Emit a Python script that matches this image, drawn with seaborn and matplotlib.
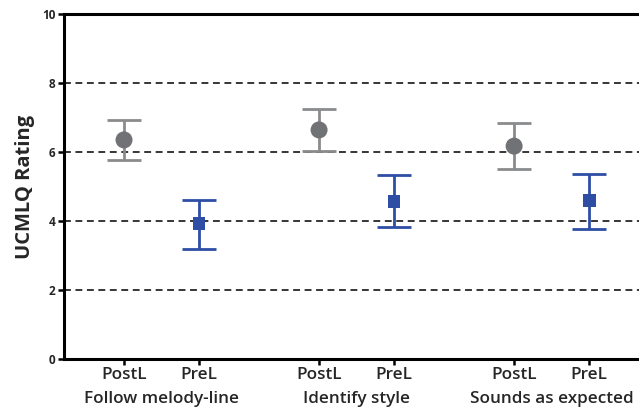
import numpy as np
import pandas as pd
import matplotlib
matplotlib.use("Agg")
import matplotlib.pyplot as plt
import matplotlib.transforms as mtransforms
import seaborn as sns

# Rating summaries per question and listening condition
questions = ["Follow melody-line", "Identify style", "Sounds as expected"]
conditions = ["PostL", "PreL"]
means = [6.35, 3.92, 6.64, 4.57, 6.17, 4.59]
lower = [5.78, 3.19, 6.03, 3.82, 5.51, 3.78]
upper = [6.94, 4.62, 7.26, 5.32, 6.84, 5.35]
yticks = [0, 2, 4, 6, 8, 10]

# x positions: two conditions per question, with a gap between questions
positions = [0.0, 1.0, 2.6, 3.6, 5.2, 6.2]

df = pd.DataFrame({
    "x": positions,
    "mean": means,
    "lo": lower,
    "hi": upper,
    "condition": conditions * len(questions),
    "question": [q for q in questions for _ in conditions],
})

sns.set_theme(style="white")
plt.rcParams["font.family"] = ["Open Sans", "DejaVu Sans"]

line_colors = {"PostL": "#8a8b8d", "PreL": "#2e4ea6"}
marker_colors = {"PostL": "#717275", "PreL": "#2e4ea6"}
markers = {"PostL": "o", "PreL": "s"}
sizes = {"PostL": 150, "PreL": 85}

fig = plt.figure(figsize=(6.39, 4.09), dpi=100)
ax = fig.add_axes([64 / 639, 50 / 409, 1 - 64 / 639 + 0.01, 345 / 409])

for y in [2, 4, 6, 8]:
    ax.axhline(y, color="black", lw=1.1, ls=(0, (4.5, 3)), zorder=1)

for cond in conditions:
    sub = df[df["condition"] == cond]
    ax.errorbar(sub["x"], sub["mean"],
                yerr=[sub["mean"] - sub["lo"], sub["hi"] - sub["mean"]],
                fmt="none", ecolor=line_colors[cond], elinewidth=2.0,
                capsize=12, capthick=2.0, zorder=2)
    sns.scatterplot(data=sub, x="x", y="mean", ax=ax, color=marker_colors[cond],
                    marker=markers[cond], s=sizes[cond], edgecolor="none",
                    zorder=3, legend=False)

ax.set_xlim(-0.8, 6.95)
ax.set_ylim(0, 10)
ax.set_yticks(yticks)
ax.set_yticklabels([str(t) for t in yticks], fontsize=8.5, fontweight="bold")
ax.set_xticks(positions)
ax.set_xticklabels(df["condition"], fontsize=12.3, fontweight="semibold")
ax.tick_params(axis="both", direction="out", length=4, width=1.8, color="black",
               left=True, bottom=True)
ax.tick_params(axis="x", pad=2)
ax.tick_params(axis="y", pad=2)

for side in ["left", "bottom", "top"]:
    ax.spines[side].set_visible(True)
    ax.spines[side].set_color("black")
    ax.spines[side].set_linewidth(2.2)
ax.spines["right"].set_visible(False)

ax.set_xlabel("")
ax.set_ylabel("UCMLQ Rating", fontsize=14.5, fontweight="bold", labelpad=5)

trans = mtransforms.blended_transform_factory(ax.transData, fig.transFigure)
for i, q in enumerate(questions):
    cx = (positions[2 * i] + positions[2 * i + 1]) / 2
    ax.text(cx, 10 / 409, q, transform=trans, ha="center", va="center",
            fontsize=12.3, fontweight="semibold")

fig.savefig("out.png", dpi=100)
